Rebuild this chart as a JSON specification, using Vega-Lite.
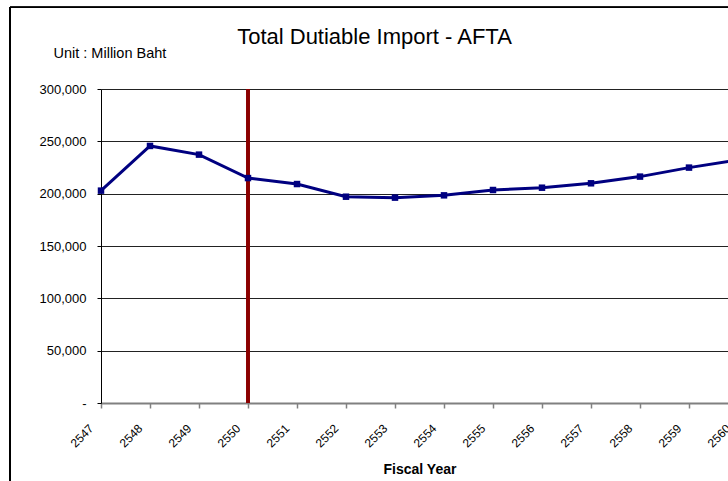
{
  "$schema": "https://vega.github.io/schema/vega-lite/v6.json",
  "autosize": {"type": "none"},
  "padding": {"left": 101, "top": 89, "right": 0, "bottom": 78},
  "width": 627,
  "height": 314,
  "background": "white",
  "config": {"font": "Liberation Sans", "view": {"stroke": null}},
  "title": {"text": "Total Dutiable Import - AFTA", "fontSize": 22, "fontWeight": "normal", "anchor": "middle", "frame": "group", "dx": -40, "dy": 42, "offset": 0, "color": "black"},
  "data": {"values": [
    {"year": 2547, "value": 202900},
    {"year": 2548, "value": 245600},
    {"year": 2549, "value": 237300},
    {"year": 2550, "value": 214900},
    {"year": 2551, "value": 209200},
    {"year": 2552, "value": 197100},
    {"year": 2553, "value": 196200},
    {"year": 2554, "value": 198400},
    {"year": 2555, "value": 203500},
    {"year": 2556, "value": 205700},
    {"year": 2557, "value": 209900},
    {"year": 2558, "value": 216300},
    {"year": 2559, "value": 224900},
    {"year": 2560, "value": 232300}
  ]},
  "layer": [
    {
      "mark": {"type": "rule", "color": "#000000", "strokeWidth": 1},
      "encoding": {
        "x": {"datum": 2545.143, "type": "quantitative"},
        "y": {"datum": -100000, "type": "quantitative"},
        "y2": {"datum": 378000}
      }
    },
    {
      "mark": {"type": "rule", "color": "#000000", "strokeWidth": 1},
      "encoding": {
        "x": {"datum": 2545.143, "type": "quantitative"},
        "x2": {"datum": 2565},
        "y": {"datum": 378000, "type": "quantitative"}
      }
    },
    {
      "mark": {"type": "rule", "color": "#8B0000", "strokeWidth": 2.5},
      "encoding": {
        "x": {"datum": 2550, "type": "quantitative"},
        "y": {"datum": 0, "type": "quantitative"},
        "y2": {"datum": 300000}
      }
    },
    {
      "mark": {"type": "line", "color": "#000080", "strokeWidth": 3, "point": {"shape": "square", "size": 42, "filled": true, "color": "#000080", "opacity": 1}},
      "encoding": {
        "x": {
          "field": "year", "type": "quantitative",
          "scale": {"domain": [2547, 2560], "range": [0, 637], "nice": false, "zero": false},
          "axis": {
            "values": [2547, 2548, 2549, 2550, 2551, 2552, 2553, 2554, 2555, 2556, 2557, 2558, 2559, 2560],
            "format": "d", "labelAngle": -45, "labelAlign": "right", "labelBaseline": "middle", "labelFontSize": 12, "labelColor": "black",
            "domainColor": "#808080", "domainWidth": 2, "tickColor": "#808080", "tickWidth": 1.5, "tickSize": 5,
            "labelPadding": 18, "labelOffset": -10, "grid": false,
            "title": "Fiscal Year", "titleFontSize": 14, "titleFontWeight": "bold", "titleColor": "black", "titlePadding": 13
          }
        },
        "y": {
          "field": "value", "type": "quantitative",
          "scale": {"domain": [0, 300000], "nice": false},
          "axis": {
            "values": [0, 50000, 100000, 150000, 200000, 250000, 300000],
            "labelExpr": "datum.value == 0 ? '-\u00a0\u00a0\u00a0\u00a0' : format(datum.value, ',')",
            "labelFontSize": 13, "labelColor": "black", "labelPadding": 11,
            "domainColor": "black", "tickColor": "black", "tickSize": 4,
            "grid": true, "gridColor": "#222222", "gridOpacity": 1,
            "title": "Unit : Million Baht", "titleAngle": 0, "titleAlign": "left", "titleBaseline": "alphabetic",
            "titleX": -48, "titleY": -32, "titleFontSize": 14.5, "titleFontWeight": "normal", "titleColor": "black"
          }
        }
      }
    }
  ]
}
